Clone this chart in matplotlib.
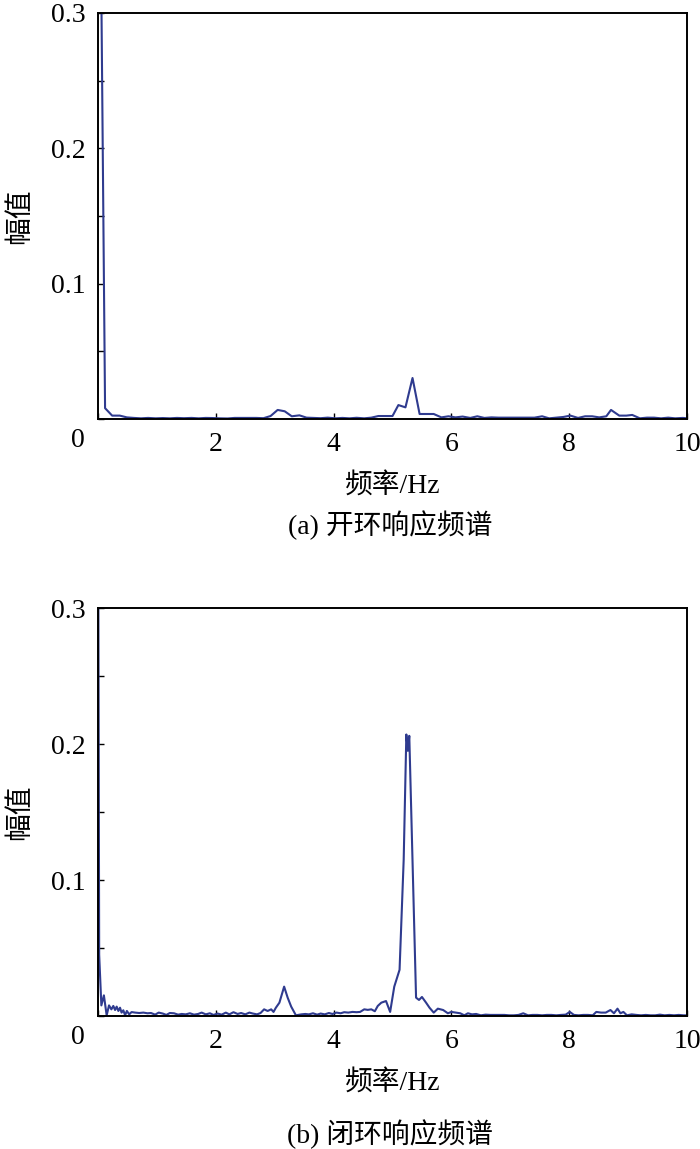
import matplotlib.pyplot as plt

# open-loop response spectrum (a)
freq_a = [0.0, 0.12, 0.24, 0.37, 0.49, 0.61, 0.73, 0.85, 0.98, 1.10, 1.22, 1.34, 1.46,
          1.59, 1.71, 1.83, 1.95, 2.07, 2.20, 2.32, 2.44, 2.56, 2.69, 2.81, 2.93, 3.05,
          3.17, 3.29, 3.42, 3.54, 3.66, 3.78, 3.90, 4.03, 4.15, 4.27, 4.39, 4.52, 4.64,
          4.76, 4.88, 5.00, 5.10, 5.22, 5.34, 5.46, 5.58, 5.70, 5.83, 5.95, 6.07, 6.19,
          6.32, 6.44, 6.56, 6.68, 6.80, 6.93, 7.05, 7.17, 7.29, 7.41, 7.54, 7.66, 7.78,
          7.90, 8.02, 8.15, 8.27, 8.39, 8.51, 8.63, 8.71, 8.85, 8.97, 9.07, 9.20, 9.32,
          9.44, 9.56, 9.68, 9.80, 9.93, 10.0]
amp_a = [0.59, 0.008, 0.0025, 0.0025, 0.0012, 0.0008, 0.0005, 0.0008, 0.0005, 0.0007,
         0.0005, 0.0008, 0.0006, 0.0008, 0.0005, 0.0008, 0.0007, 0.0005, 0.0004, 0.0008,
         0.0008, 0.0008, 0.0008, 0.0006, 0.0022, 0.0067, 0.0057, 0.0020, 0.0027, 0.0010,
         0.0008, 0.0006, 0.0010, 0.0005, 0.0008, 0.0005, 0.0009, 0.0005, 0.0010, 0.0022,
         0.0022, 0.0022, 0.0103, 0.0086, 0.0303, 0.0037, 0.0037, 0.0037, 0.0012, 0.0020,
         0.0012, 0.0018, 0.0008, 0.0020, 0.0008, 0.0012, 0.0010, 0.0010, 0.0010, 0.0010,
         0.0010, 0.0010, 0.0020, 0.0005, 0.0010, 0.0015, 0.0025, 0.0008, 0.0020, 0.0020,
         0.0012, 0.0020, 0.0067, 0.0025, 0.0025, 0.0030, 0.0005, 0.0010, 0.0010, 0.0005,
         0.0010, 0.0005, 0.0008, 0.0005]

# closed-loop response spectrum (b)
freq_b = [0.0, 0.02, 0.057, 0.10, 0.147, 0.187, 0.227, 0.26, 0.29, 0.317, 0.346, 0.374,
          0.40, 0.43, 0.46, 0.49, 0.53, 0.57, 0.63, 0.70, 0.77, 0.84, 0.90, 0.97, 1.03,
          1.10, 1.16, 1.22, 1.29, 1.36, 1.42, 1.49, 1.56, 1.63, 1.70, 1.76, 1.83, 1.90,
          1.96, 2.03, 2.10, 2.17, 2.23, 2.30, 2.37, 2.43, 2.50, 2.57, 2.63, 2.70, 2.76,
          2.82, 2.88, 2.94, 2.98, 3.02, 3.08, 3.16, 3.22, 3.28, 3.36, 3.45, 3.52, 3.58,
          3.65, 3.72, 3.78, 3.85, 3.92, 3.98, 4.05, 4.12, 4.18, 4.25, 4.32, 4.39, 4.45,
          4.52, 4.58, 4.64, 4.70, 4.75, 4.81, 4.89, 4.96, 5.03, 5.12, 5.19, 5.235, 5.26,
          5.285, 5.40, 5.45, 5.50, 5.57, 5.63, 5.70, 5.77, 5.86, 5.94, 6.00, 6.08, 6.15,
          6.22, 6.28, 6.35, 6.42, 6.50, 6.58, 6.66, 6.74, 6.82, 6.90, 6.98, 7.06, 7.14,
          7.22, 7.30, 7.38, 7.46, 7.54, 7.62, 7.70, 7.78, 7.86, 7.94, 8.01, 8.08, 8.16,
          8.24, 8.32, 8.40, 8.46, 8.54, 8.62, 8.70, 8.76, 8.82, 8.87, 8.92, 8.98, 9.06,
          9.14, 9.22, 9.30, 9.38, 9.46, 9.54, 9.62, 9.70, 9.78, 9.86, 9.94, 10.0]
amp_b = [0.42, 0.045, 0.0078, 0.0152, 0.0005, 0.0078, 0.0049, 0.0074, 0.0044, 0.0069,
         0.0037, 0.0061, 0.0025, 0.0042, 0.0005, 0.0037, 0.0012, 0.0029, 0.0025, 0.0022,
         0.0025, 0.0020, 0.0022, 0.0010, 0.0025, 0.0018, 0.0008, 0.0022, 0.0020, 0.0010,
         0.0015, 0.0012, 0.0020, 0.0010, 0.0015, 0.0025, 0.0012, 0.0020, 0.0008, 0.0018,
         0.0010, 0.0025, 0.0012, 0.0028, 0.0015, 0.0022, 0.0012, 0.0025, 0.0018, 0.0012,
         0.0022, 0.0049, 0.0037, 0.0049, 0.0030, 0.0061, 0.0098, 0.0216, 0.0135, 0.0069,
         0.0005, 0.0012, 0.0015, 0.0012, 0.0020, 0.0010, 0.0018, 0.0012, 0.0022, 0.0015,
         0.0025, 0.0020, 0.0028, 0.0025, 0.0030, 0.0028, 0.0030, 0.0049, 0.0045, 0.0049,
         0.0035, 0.0074, 0.0098, 0.0110, 0.0030, 0.0216, 0.0340, 0.1150, 0.2070, 0.1950,
         0.2060, 0.0135, 0.0118, 0.0140, 0.0098, 0.0060, 0.0025, 0.0054, 0.0044, 0.0020,
         0.0030, 0.0025, 0.0020, 0.0005, 0.0020, 0.0012, 0.0015, 0.0005, 0.0010, 0.0008,
         0.0008, 0.0008, 0.0008, 0.0005, 0.0005, 0.0008, 0.0020, 0.0005, 0.0008, 0.0008,
         0.0005, 0.0008, 0.0008, 0.0005, 0.0008, 0.0010, 0.0030, 0.0008, 0.0005, 0.0008,
         0.0008, 0.0005, 0.0030, 0.0025, 0.0025, 0.0044, 0.0020, 0.0054, 0.0020, 0.0030,
         0.0005, 0.0012, 0.0008, 0.0005, 0.0008, 0.0005, 0.0005, 0.0010, 0.0005, 0.0008,
         0.0005, 0.0008, 0.0005, 0.0005]

x_ticks = [0, 2, 4, 6, 8, 10]
x_labels = ['', '2', '4', '6', '8', '10']
y_ticks = [0, 0.05, 0.1, 0.15, 0.2, 0.25, 0.3]
y_labels = ['', '', '0.1', '', '0.2', '', '0.3']
captions = ['(a) 开环响应频谱', '(b) 闭环响应频谱']

fam = ['Liberation Serif', 'Noto Sans CJK SC']
line_color = '#2f3b8f'
fs = 20

fig = plt.figure(figsize=(7, 11.49), dpi=100)
ax1 = fig.add_axes([98 / 700, 1 - 419 / 1149, 589 / 700, 406 / 1149])
ax2 = fig.add_axes([98 / 700, 1 - 1016 / 1149, 589 / 700, 408 / 1149])

for ax, f, a, cap, cap_y in [(ax1, freq_a, amp_a, captions[0], 525),
                             (ax2, freq_b, amp_b, captions[1], 1134)]:
    ax.plot(f, a, color=line_color, linewidth=1.5)
    ax.set_xlim(0, 10)
    ax.set_ylim(0, 0.3)
    ax.set_xticks(x_ticks)
    ax.set_xticklabels(x_labels, family=fam, fontsize=fs)
    ax.set_yticks(y_ticks)
    ax.set_yticklabels(y_labels, family=fam, fontsize=fs)
    ax.tick_params(direction='in', length=4, width=1, pad=9)
    for s in ax.spines.values():
        s.set_linewidth(1.4)
    # origin label sits a little left of the axis corner
    ax.annotate('0', xy=(0, 0), xycoords='axes fraction', xytext=(-20, -21),
                textcoords='offset pixels', ha='center', va='center',
                family=fam, fontsize=fs)
    ax.set_xlabel('频率/Hz', family=fam, fontsize=fs, va='center')
    ax.set_ylabel('幅值', family=fam, fontsize=fs, va='center')
    h = ax.get_position().height * 1149
    ax.xaxis.set_label_coords(0.5, -67 / h)
    ax.yaxis.set_label_coords(-78 / 589, 0.5)
    fig.text(390 / 700, 1 - cap_y / 1149, cap, ha='center', va='center',
             family=fam, fontsize=fs)

fig.savefig('out.png', dpi=100)
